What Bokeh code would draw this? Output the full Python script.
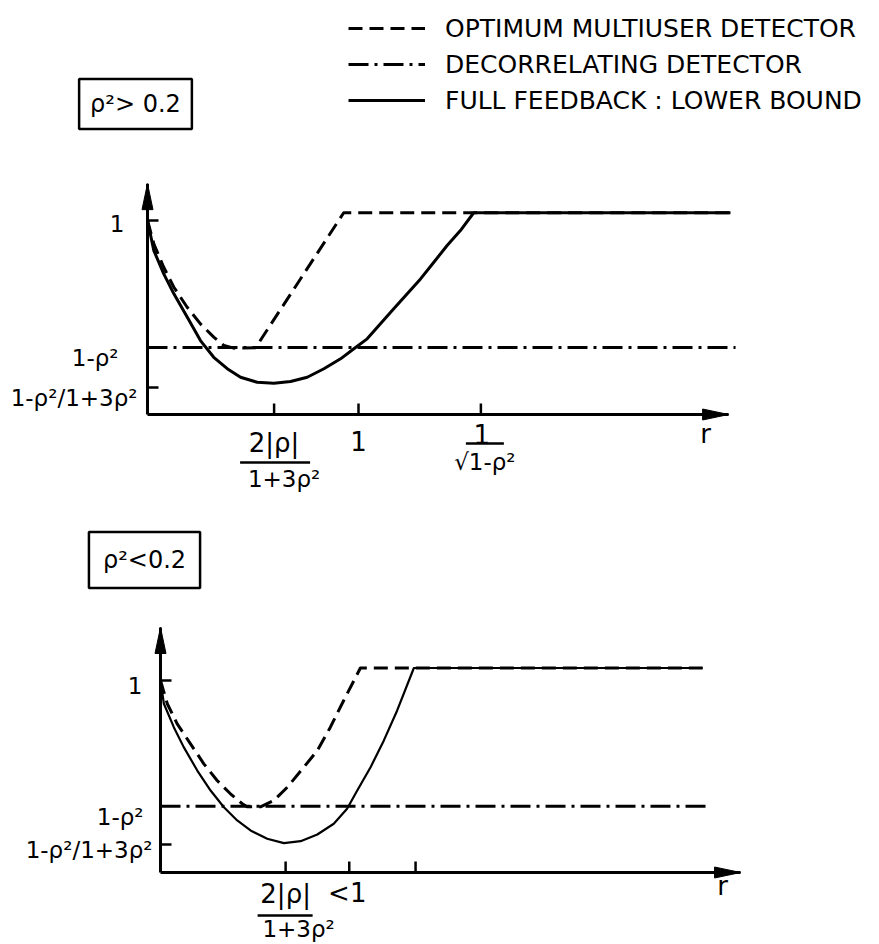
from bokeh.plotting import figure
from bokeh.models import Range1d, Legend, LegendItem, Label, ColumnDataSource
from bokeh.layouts import column
from bokeh.embed import file_html
from bokeh.resources import INLINE
from bokeh.core.properties import value

FONT = "DejaVu Sans"

# ---------------- data : upper panel (rho^2 > 0.2) ----------------
a_opt_r = [0.0, 0.030, 0.077, 0.125, 0.188, 0.251, 0.314, 0.362, 0.409, 0.512, 0.930, 2.763]
a_opt_v = [1.0, 0.880, 0.759, 0.656, 0.553, 0.467, 0.399, 0.356, 0.342, 0.344, 1.04, 1.04]
a_ff_r = [0.0, 0.030, 0.077, 0.125, 0.188, 0.251, 0.314, 0.378, 0.441, 0.520, 0.599,
          0.678, 0.757, 0.836, 0.915, 0.978, 1.041, 1.104, 1.167, 1.231, 1.294,
          1.357, 1.420, 1.483, 1.546, 2.763]
a_ff_v = [1.0, 0.845, 0.725, 0.622, 0.502, 0.381, 0.295, 0.236, 0.192, 0.166, 0.161,
          0.170, 0.192, 0.236, 0.287, 0.339, 0.390, 0.468, 0.545, 0.622, 0.699,
          0.785, 0.871, 0.948, 1.04, 1.04]
a_dd_r = [0.0, 2.787]
a_dd_v = [0.345, 0.345]
a_axis_end = [2.754, 1.19]          # r-arrow tip, vertical-arrow tip
a_yticks = [1.0, 0.139]
a_ylabel_v = [1.0, 0.345, 0.139]
a_ylabels = ["1", "1-ρ²", "1-ρ²/1+3ρ²"]
a_xticks = [0.6, 1.0, 1.58]

# ---------------- data : lower panel (rho^2 < 0.2) ----------------
b_opt_r = [0.0, 0.028, 0.069, 0.124, 0.179, 0.234, 0.289, 0.338, 0.358, 0.413, 0.468,
           0.524, 0.592, 0.648, 0.702, 0.757, 0.826, 2.24]
b_opt_v = [1.0, 0.879, 0.774, 0.670, 0.566, 0.479, 0.410, 0.358, 0.342, 0.342, 0.375,
           0.444, 0.548, 0.635, 0.757, 0.896, 1.065, 1.065]
b_ff_r = [0.0, 0.014, 0.055, 0.096, 0.152, 0.207, 0.262, 0.317, 0.372, 0.441, 0.510,
          0.579, 0.648, 0.716, 0.771, 0.813, 0.868, 0.923, 0.978, 1.047, 2.24]
b_ff_v = [1.0, 0.879, 0.757, 0.653, 0.531, 0.427, 0.340, 0.271, 0.219, 0.176, 0.153,
          0.163, 0.198, 0.254, 0.332, 0.427, 0.548, 0.688, 0.844, 1.065, 1.065]
b_dd_r = [0.0, 2.26]
b_dd_v = [0.345, 0.345]
b_axis_end = [2.397, 1.276]
b_yticks = [1.0, 0.146]
b_ylabel_v = [1.0, 0.345, 0.146]
b_ylabels = ["1", "1-ρ²", "1-ρ²/1+3ρ²"]
b_xticks = [0.517, 0.78, 1.054]

legend_labels = ["OPTIMUM MULTIUSER DETECTOR", "DECORRELATING DETECTOR",
                 "FULL FEEDBACK : LOWER BOUND"]

W = 879
H1, H2 = 520, 424
DASH = "14 7"
DASHDOT = "20 6 3 6"
LW = 3


def make_fig(h, sx, sy, ox, oy):
    # sx, sy: pixels per unit ; ox, oy: origin position in pixels inside the figure
    p = figure(width=W, height=h, output_backend="svg", toolbar_location=None,
               x_range=Range1d(-ox / sx, (W - ox) / sx),
               y_range=Range1d(-(h - oy) / sy, oy / sy),
               x_axis_type=None, y_axis_type=None, min_border=0,
               outline_line_color=None, background_fill_color="white",
               border_fill_color="white")
    return p


def draw_axes(p, sx, sy, end, yticks, xticks):
    rend, vend = end
    p.segment(x0=[0, 0], y0=[0, 0], x1=[rend, 0], y1=[0, vend],
              line_color="black", line_width=LW)
    # arrow heads (narrow filled triangles)
    L, Hw = 26, 5.5
    p.patches(xs=[[rend, rend - L / sx, rend - L / sx], [0, -Hw / sx, Hw / sx]],
              ys=[[0, Hw / sy, -Hw / sy], [vend, vend - L / sy, vend - L / sy]],
              fill_color="black", line_color="black", line_width=1)
    # y ticks
    p.segment(x0=[0] * len(yticks), y0=yticks, x1=[11 / sx] * len(yticks), y1=yticks,
              line_color="black", line_width=2.5)
    # x ticks
    p.segment(x0=xticks, y0=[0] * len(xticks), x1=xticks, y1=[11 / sy] * len(xticks),
              line_color="black", line_width=2.5)


def curves(p, opt_r, opt_v, dd_r, dd_v, ff_r, ff_v, ff_w):
    r_dd = p.line(dd_r, dd_v, line_color="black", line_width=LW, line_dash=DASHDOT)
    r_opt = p.line(opt_r, opt_v, line_color="black", line_width=LW, line_dash=DASH,
                   line_join="round")
    r_ff = p.line(ff_r, ff_v, line_color="black", line_width=ff_w, line_join="round")
    return r_opt, r_dd, r_ff


def texts(p, xs, ys, txt, dx, dy, size, align):
    src = ColumnDataSource(dict(x=xs, y=ys, t=txt, dx=dx, dy=dy))
    p.text(x="x", y="y", text="t", x_offset="dx", y_offset="dy", source=src,
           text_font=value(FONT), text_font_size=size, text_align=align,
           text_baseline="middle", text_color="black")


def caption(p, x, y, txt, pad):
    p.add_layout(Label(x=x, y=y, x_units="screen", y_units="screen",
                       text=txt, text_font=FONT, text_font_size="24px",
                       text_color="black", text_align="center",
                       text_baseline="middle", border_line_color="black",
                       border_line_width=2.5, padding=pad))


# ================= upper panel =================
SXA, SYA = 211, 194
pa = make_fig(H1, SXA, SYA, 147, 414)
ra_opt, ra_dd, ra_ff = curves(pa, a_opt_r, a_opt_v, a_dd_r, a_dd_v, a_ff_r, a_ff_v, 3)
draw_axes(pa, SXA, SYA, a_axis_end, a_yticks, a_xticks)

texts(pa, [0, 0, 0], a_ylabel_v, a_ylabels, [-23, -29, -10], [3, 10, 10], "23px", "right")
texts(pa, [a_xticks[0], a_xticks[1], a_xticks[2], a_axis_end[0]], [0] * 4,
      ["2|ρ|", "1", "1", "r"], [0, 0, 1, -23], [28, 26, 19, 19], "26px", "center")
texts(pa, [a_xticks[0], a_xticks[2]], [0, 0], ["1+3ρ²", "√1-ρ²"],
      [10, 4], [64, 47], "23px", "center")
pa.segment(x0=[a_xticks[0] - 34 / SXA, a_xticks[2] - 15 / SXA],
           y0=[-48 / SYA, -29 / SYA],
           x1=[a_xticks[0] + 36 / SXA, a_xticks[2] + 23 / SXA],
           y1=[-48 / SYA, -29 / SYA], line_color="black", line_width=2.5)

caption(pa, 135, H1 - 103.5, "ρ²> 0.2", 11)

legend = Legend(items=[LegendItem(label=legend_labels[0], renderers=[ra_opt]),
                       LegendItem(label=legend_labels[1], renderers=[ra_dd]),
                       LegendItem(label=legend_labels[2], renderers=[ra_ff])],
                location=(348, H1 - 118), glyph_width=77, glyph_height=36,
                label_height=36, label_standoff=20, spacing=0, padding=0, margin=0,
                border_line_color=None, background_fill_alpha=0,
                label_text_font=FONT, label_text_font_size="25px",
                label_text_color="black")
pa.add_layout(legend)

# ================= lower panel =================
SXB, SYB = 242, 192
pb = make_fig(H2, SXB, SYB, 160, 872 - H1)
rb_opt, rb_dd, rb_ff = curves(pb, b_opt_r, b_opt_v, b_dd_r, b_dd_v, b_ff_r, b_ff_v, 2.2)
draw_axes(pb, SXB, SYB, b_axis_end, b_yticks, b_xticks)

texts(pb, [0, 0, 0], b_ylabel_v, b_ylabels, [-18, -17, -8], [5, 11, 6], "23px", "right")
texts(pb, [b_xticks[0], b_xticks[1], b_axis_end[0]], [0] * 3,
      ["2|ρ|", "<1", "r"], [0, -2, -18], [21, 20, 13], "26px", "center")
texts(pb, [b_xticks[0]], [0], ["1+3ρ²"], [13], [56], "23px", "center")
pb.segment(x0=[b_xticks[0] - 28 / SXB], y0=[-43 / SYB],
           x1=[b_xticks[0] + 27 / SXB], y1=[-43 / SYB],
           line_color="black", line_width=2.5)

caption(pb, 144, H2 - 39.5, "ρ²<0.2", 14)

layout = column(pa, pb, spacing=0)
open("out.html", "w").write(file_html(layout, INLINE))
